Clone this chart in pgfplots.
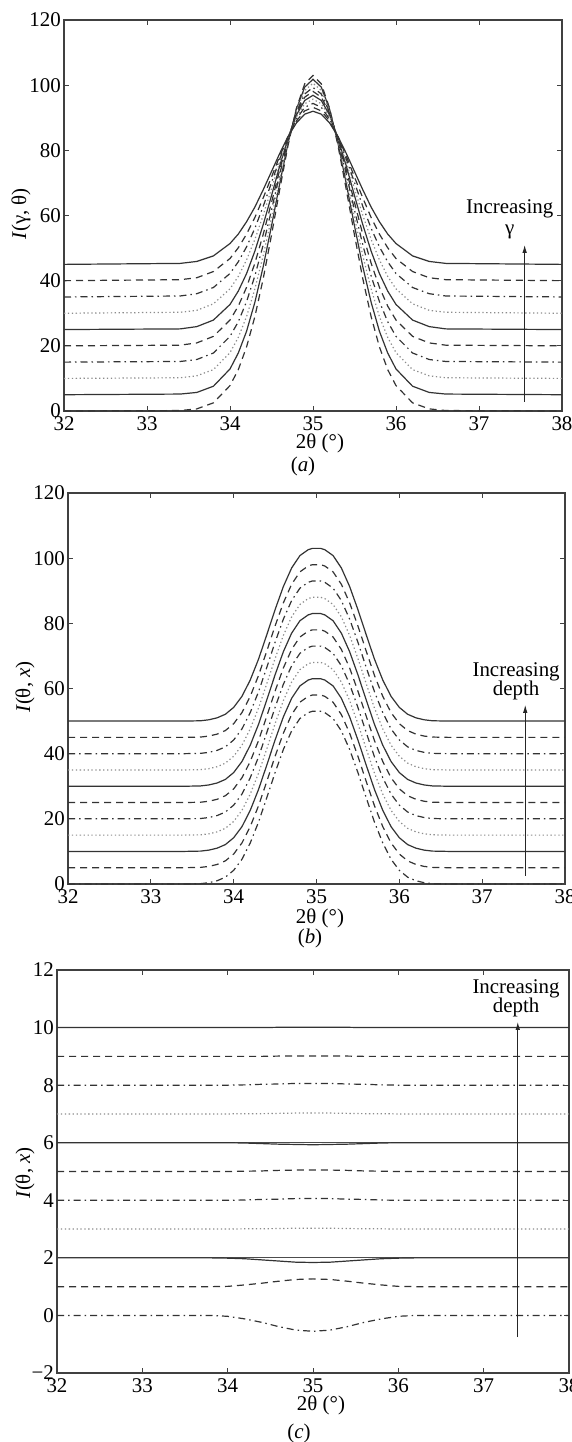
\documentclass[border=0pt]{standalone}
\usepackage{fontspec}
\setmainfont{Liberation Serif}
\usepackage{pgfplots}
\usepackage{pgfplotstable}
\pgfplotsset{compat=1.18}
\usetikzlibrary{arrows.meta}

\pgfplotstableread{
x a0 a1 a2 a3 a4 a5 a6 a7 a8 a9
32 0 5 10 15 20 25 30 35 40 45
33.4 0.14 5.2 10.2 15.2 20.2 25.2 30.3 35.3 40.3 45.3
33.6 0.65 5.7 10.8 15.8 20.9 25.9 30.9 36.0 40.9 45.9
33.8 2.5 7.6 12.7 17.8 22.9 27.9 32.9 37.9 42.8 47.6
34.0 7.8 12.9 17.9 22.9 27.9 32.7 37.5 42.2 46.8 51.4
34.1 12.7 17.8 22.6 27.4 32.2 36.8 41.3 45.8 50.1 54.3
34.2 19.7 24.5 29.0 33.6 38.0 42.2 46.4 50.4 54.3 58.1
34.3 29.0 33.4 37.5 41.5 45.4 49.1 52.7 56.1 59.4 62.6
34.4 40.6 44.3 47.7 51.0 54.2 57.2 60.1 62.8 65.4 67.9
34.5 54.0 56.8 59.3 61.7 64.0 66.1 68.2 70.1 71.8 73.5
34.6 68.1 69.9 71.3 72.8 74.1 75.3 76.4 77.4 78.3 79.1
34.7 81.6 82.3 82.8 83.1 83.5 83.8 84.0 84.1 84.2 84.3
34.8 92.9 92.6 92.2 91.7 91.3 90.8 90.2 89.6 89.0 88.4
34.9 100.4 99.4 98.4 97.3 96.3 95.3 94.3 93.2 92.1 91.1
35.0 103 101.8 100.6 99.3 98.1 96.9 95.7 94.4 93.2 92
35.1 100.4 99.4 98.4 97.3 96.3 95.3 94.3 93.2 92.1 91.1
35.2 92.9 92.6 92.2 91.7 91.3 90.8 90.2 89.6 89.0 88.4
35.3 81.6 82.3 82.8 83.1 83.5 83.8 84.0 84.1 84.2 84.3
35.4 68.1 69.9 71.3 72.8 74.1 75.3 76.4 77.4 78.3 79.1
35.5 54.0 56.8 59.3 61.7 64.0 66.1 68.2 70.1 71.8 73.5
35.6 40.6 44.3 47.7 51.0 54.2 57.2 60.1 62.8 65.4 67.9
35.7 29.0 33.4 37.5 41.5 45.4 49.1 52.7 56.1 59.4 62.6
35.8 19.7 24.5 29.0 33.6 38.0 42.2 46.4 50.4 54.3 58.1
35.9 12.7 17.8 22.6 27.4 32.2 36.8 41.3 45.8 50.1 54.3
36.0 7.8 12.9 17.9 22.9 27.9 32.7 37.5 42.2 46.8 51.4
36.2 2.5 7.6 12.7 17.8 22.9 27.9 32.9 37.9 42.8 47.6
36.4 0.65 5.7 10.8 15.8 20.9 25.9 30.9 36.0 40.9 45.9
36.6 0.14 5.2 10.2 15.2 20.2 25.2 30.3 35.3 40.3 45.3
38 0 5 10 15 20 25 30 35 40 45
}\tabA

\pgfplotstableread{
x b0 b1 b2 b3 b4 b5 b6 b7 b8 b9 b10
32 0 5 10 15 20 25 30 35 40 45 50
33.4 0 5 10 15 20 25 30 35 40 45 50
33.6 0.1 5.1 10.1 15.1 20.1 25.1 30.1 35.1 40.1 45.1 50.1
33.7 0.4 5.4 10.4 15.4 20.4 25.4 30.4 35.4 40.4 45.4 50.4
33.8 1 6 11 16 21 26 31 36 41 46 51
33.9 2.1 7.1 12.1 17.1 22.1 27.1 32.1 37.1 42.1 47.1 52.1
34.0 4.2 9.2 14.2 19.2 24.2 29.2 34.2 39.2 44.2 49.2 54.2
34.1 7.6 12.6 17.6 22.6 27.6 32.6 37.6 42.6 47.6 52.6 57.6
34.2 12.6 17.6 22.6 27.6 32.6 37.6 42.6 47.6 52.6 57.6 62.6
34.3 19 24 29 34 39 44 49 54 59 64 69
34.4 26.5 31.5 36.5 41.5 46.5 51.5 56.5 61.5 66.5 71.5 76.5
34.5 34.2 39.2 44.2 49.2 54.2 59.2 64.2 69.2 74.2 79.2 84.2
34.6 41.3 46.3 51.3 56.3 61.3 66.3 71.3 76.3 81.3 86.3 91.3
34.7 47 52 57 62 67 72 77 82 87 92 97
34.8 50.8 55.8 60.8 65.8 70.8 75.8 80.8 85.8 90.8 95.8 100.8
34.9 52.6 57.6 62.6 67.6 72.6 77.6 82.6 87.6 92.6 97.6 102.6
34.95 53 58 63 68 73 78 83 88 93 98 103
35.05 53 58 63 68 73 78 83 88 93 98 103
35.1 52.6 57.6 62.6 67.6 72.6 77.6 82.6 87.6 92.6 97.6 102.6
35.2 50.8 55.8 60.8 65.8 70.8 75.8 80.8 85.8 90.8 95.8 100.8
35.3 47 52 57 62 67 72 77 82 87 92 97
35.4 41.3 46.3 51.3 56.3 61.3 66.3 71.3 76.3 81.3 86.3 91.3
35.5 34.2 39.2 44.2 49.2 54.2 59.2 64.2 69.2 74.2 79.2 84.2
35.6 26.5 31.5 36.5 41.5 46.5 51.5 56.5 61.5 66.5 71.5 76.5
35.7 19 24 29 34 39 44 49 54 59 64 69
35.8 12.6 17.6 22.6 27.6 32.6 37.6 42.6 47.6 52.6 57.6 62.6
35.9 7.6 12.6 17.6 22.6 27.6 32.6 37.6 42.6 47.6 52.6 57.6
36.0 4.2 9.2 14.2 19.2 24.2 29.2 34.2 39.2 44.2 49.2 54.2
36.1 2.1 7.1 12.1 17.1 22.1 27.1 32.1 37.1 42.1 47.1 52.1
36.2 1 6 11 16 21 26 31 36 41 46 51
36.3 0.4 5.4 10.4 15.4 20.4 25.4 30.4 35.4 40.4 45.4 50.4
36.4 0.1 5.1 10.1 15.1 20.1 25.1 30.1 35.1 40.1 45.1 50.1
36.6 0 5 10 15 20 25 30 35 40 45 50
38 0 5 10 15 20 25 30 35 40 45 50
}\tabB

\pgfplotstableread{
x c0 c1 c2 c3 c4 c5 c6 c7 c8 c9 c10
32 0 1 2 3 4 5 6 7 8 9 10
33.8 0 1 2 3 4 5 6 7 8 9 10
34.0 -0.03 1.01 1.99 3 4 5 6 7 8 9 10
34.2 -0.12 1.06 1.97 3.01 4.01 5.01 5.99 7.01 8.01 9 10
34.4 -0.24 1.12 1.93 3.01 4.03 5.02 5.97 7.01 8.03 9 10
34.6 -0.39 1.19 1.89 3.02 4.04 5.04 5.95 7.02 8.04 9.01 10.01
34.8 -0.51 1.25 1.85 3.03 4.06 5.05 5.94 7.03 8.06 9.01 10.01
35.0 -0.55 1.27 1.84 3.03 4.06 5.05 5.93 7.03 8.06 9.01 10.01
35.2 -0.51 1.25 1.85 3.03 4.06 5.05 5.94 7.03 8.06 9.01 10.01
35.4 -0.39 1.19 1.89 3.02 4.04 5.04 5.95 7.02 8.04 9.01 10.01
35.6 -0.24 1.12 1.93 3.01 4.03 5.02 5.97 7.01 8.03 9 10
35.8 -0.12 1.06 1.97 3.01 4.01 5.01 5.99 7.01 8.01 9 10
36.0 -0.03 1.01 1.99 3 4 5 6 7 8 9 10
36.2 0 1 2 3 4 5 6 7 8 9 10
38 0 1 2 3 4 5 6 7 8 9 10
}\tabC

\pgfplotsset{
  panel/.style={
    scale only axis, xmin=32, xmax=38,
    xtick={32,33,34,35,36,37,38},
    xticklabels={\textrm{32},\textrm{33},\textrm{34},\textrm{35},\textrm{36},\textrm{37},\textrm{38}},
    axis line style={black!75, line width=1.3bp},
    tick style={black!75, line width=0.8bp},
    major tick length=5bp,
    tick align=inside,
    yticklabel style={inner sep=3bp},
    xticklabel style={inner sep=5bp},
    every axis plot/.append style={line width=1.2bp, black!80},
  },
  s solid/.style={solid},
  s dash/.style={dash pattern=on 7bp off 5bp},
  s dashdot/.style={dash pattern=on 7bp off 4bp on 1.5bp off 4bp},
  s dot/.style={black!45, dash pattern=on 1.3bp off 2.6bp},
  arr/.style={black!85, line width=1bp, -{Latex[length=8bp,width=4.5bp]}},
}

\begin{document}
\fontsize{21}{23}\selectfont
\begin{tikzpicture}
\useasboundingbox (0,0) rectangle (572bp,-1442bp);
\fill[white] (0,0) rectangle (572bp,-1442bp);

% ---------------- panel (a)
\begin{axis}[panel, at={(64bp,-20bp)}, anchor=north west,
  width=498bp, height=391bp, ymin=0, ymax=120,
  ytick={0,20,40,60,80,100,120},
  yticklabels={\textrm{0},\textrm{20},\textrm{40},\textrm{60},\textrm{80},\textrm{100},\textrm{120}}]
\addplot[s dash]    table[x=x,y=a0]{\tabA};
\addplot[s solid]   table[x=x,y=a1]{\tabA};
\addplot[s dot]     table[x=x,y=a2]{\tabA};
\addplot[s dashdot] table[x=x,y=a3]{\tabA};
\addplot[s dash]    table[x=x,y=a4]{\tabA};
\addplot[s solid]   table[x=x,y=a5]{\tabA};
\addplot[s dot]     table[x=x,y=a6]{\tabA};
\addplot[s dashdot] table[x=x,y=a7]{\tabA};
\addplot[s dash]    table[x=x,y=a8]{\tabA};
\addplot[s solid]   table[x=x,y=a9]{\tabA};
\addplot[arr] coordinates {(37.55,2.8) (37.55,51)};
\node at (axis cs:37.37,62) {Increasing};
\node at (axis cs:37.37,55) {γ};
\end{axis}
\node[rotate=90] at (21bp,-214bp) {\textit{I}(γ, θ)};
\node at (320bp,-443bp) {2θ (°)};
\node at (303bp,-466bp) {(\textit{a})};

% ---------------- panel (b)
\begin{axis}[panel, at={(68bp,-493bp)}, anchor=north west,
  width=497bp, height=391bp, ymin=0, ymax=120,
  ytick={0,20,40,60,80,100,120},
  yticklabels={\textrm{0},\textrm{20},\textrm{40},\textrm{60},\textrm{80},\textrm{100},\textrm{120}}]
\addplot[s dashdot] table[x=x,y=b0]{\tabB};
\addplot[s dash]    table[x=x,y=b1]{\tabB};
\addplot[s solid]   table[x=x,y=b2]{\tabB};
\addplot[s dot]     table[x=x,y=b3]{\tabB};
\addplot[s dashdot] table[x=x,y=b4]{\tabB};
\addplot[s dash]    table[x=x,y=b5]{\tabB};
\addplot[s solid]   table[x=x,y=b6]{\tabB};
\addplot[s dot]     table[x=x,y=b7]{\tabB};
\addplot[s dashdot] table[x=x,y=b8]{\tabB};
\addplot[s dash]    table[x=x,y=b9]{\tabB};
\addplot[s solid]   table[x=x,y=b10]{\tabB};
\addplot[arr] coordinates {(37.52,2.5) (37.52,55)};
\node at (axis cs:37.41,65) {Increasing};
\node at (axis cs:37.41,59.5) {depth};
\end{axis}
\node[rotate=90] at (25bp,-687bp) {\textit{I}(θ, \textit{x})};
\node at (320bp,-918bp) {2θ (°)};
\node at (310bp,-938bp) {(\textit{b})};

% ---------------- panel (c)
\begin{axis}[panel, at={(57bp,-970bp)}, anchor=north west,
  width=512bp, height=403bp, ymin=-2, ymax=12,
  ytick={-2,0,2,4,6,8,10,12},
  yticklabels={\textrm{−2},\textrm{0},\textrm{2},\textrm{4},\textrm{6},\textrm{8},\textrm{10},\textrm{12}}]
\addplot[black!70, line width=0.9bp] coordinates {(32,2) (38,2)};
\addplot[black!70, line width=0.9bp] coordinates {(32,6) (38,6)};
\addplot[s dashdot] table[x=x,y=c0]{\tabC};
\addplot[s dash]    table[x=x,y=c1]{\tabC};
\addplot[s solid]   table[x=x,y=c2]{\tabC};
\addplot[s dot]     table[x=x,y=c3]{\tabC};
\addplot[s dashdot] table[x=x,y=c4]{\tabC};
\addplot[s dash]    table[x=x,y=c5]{\tabC};
\addplot[s solid]   table[x=x,y=c6]{\tabC};
\addplot[s dot]     table[x=x,y=c7]{\tabC};
\addplot[s dashdot] table[x=x,y=c8]{\tabC};
\addplot[s dash]    table[x=x,y=c9]{\tabC};
\addplot[s solid]   table[x=x,y=c10]{\tabC};
\addplot[arr] coordinates {(37.4,-0.75) (37.4,10.2)};
\node at (axis cs:37.38,11.34) {Increasing};
\node at (axis cs:37.38,10.71) {depth};
\end{axis}
\node[rotate=90] at (25bp,-1173bp) {\textit{I}(θ, \textit{x})};
\node at (321bp,-1405bp) {2θ (°)};
\node at (299bp,-1433bp) {(\textit{c})};
\end{tikzpicture}
\end{document}
